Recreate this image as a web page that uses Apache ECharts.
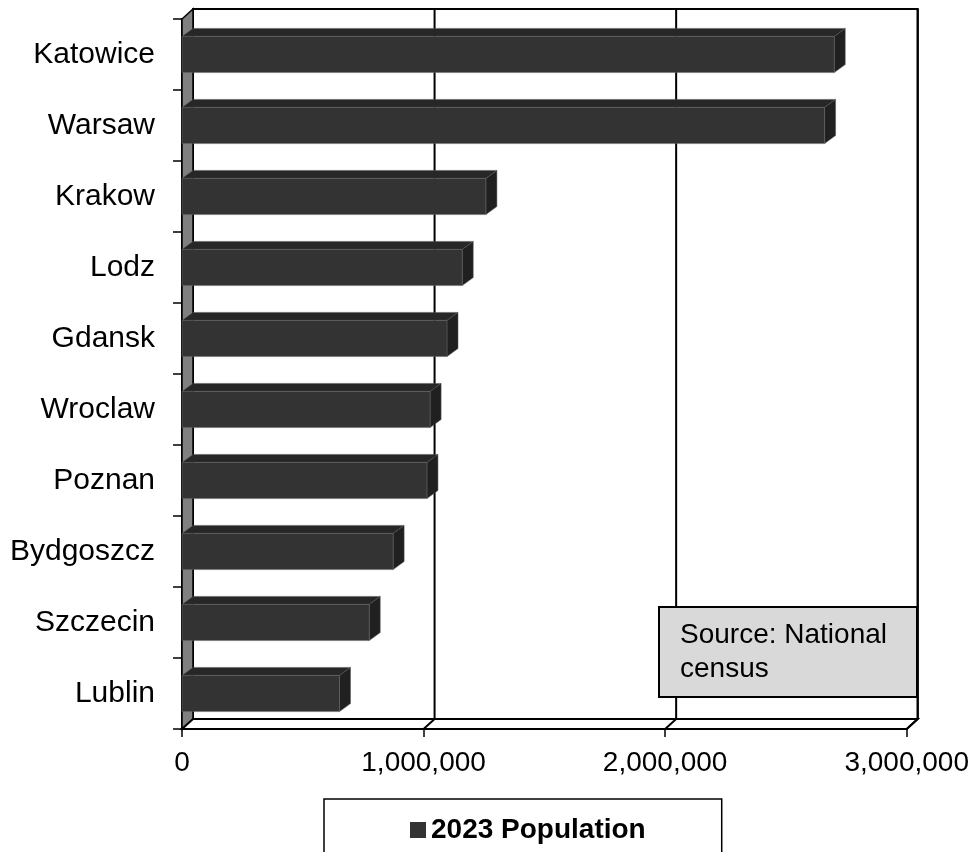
<!DOCTYPE html>
<html>
<head>
<meta charset="utf-8">
<script src="https://cdn.jsdelivr.net/npm/echarts@6/dist/echarts.min.js"></script>
<style>
html,body{margin:0;padding:0;background:#fff;}
#chart{width:972px;height:852px;}
</style>
</head>
<body>
<div id="chart"></div>
<script>
const cities = ['Katowice','Warsaw','Krakow','Lodz','Gdansk','Wroclaw','Poznan','Bydgoszcz','Szczecin','Lublin'];
const population2023 = [2700000,2660000,1258000,1160000,1097000,1027000,1014000,874000,775000,652000];
const xTicks = [0, 1000000, 2000000, 3000000];
const seriesName = '2023 Population';
const sourceNote = 'Source: National\ncensus';

const FONT = '"Liberation Sans", Arial, sans-serif';
const DX = 11, DY = -10;      // wall depth offset
const BDX = 11, BDY = -8;     // bar depth offset

const chart = echarts.init(document.getElementById('chart'), null, {renderer:'canvas'});

function fmt(v){ return v.toLocaleString('en-US'); }

const wallSeries = {
  type: 'custom',
  name: 'walls',
  silent: true,
  z: 1,
  legendHoverLink: false,
  data: [[0, 0]],
  encode: {x: 0, y: 1},
  renderItem: function(params, api){
    const cs = params.coordSys;
    const x0 = cs.x, x1 = cs.x + cs.width, yT = cs.y, yB = cs.y + cs.height;
    const children = [];
    children.push({type:'polygon', shape:{points:[[x0+DX,yT+DY],[x1+DX,yT+DY],[x1+DX,yB+DY],[x0+DX,yB+DY]]},
      style:{fill:'#fff', stroke:'#000', lineWidth:2}});
    children.push({type:'polygon', shape:{points:[[x0,yT],[x0+DX,yT+DY],[x0+DX,yB+DY],[x0,yB]]},
      style:{fill:'#808080', stroke:'#000', lineWidth:1.5}});
    children.push({type:'polygon', shape:{points:[[x0,yB],[x1,yB],[x1+DX,yB+DY],[x0+DX,yB+DY]]},
      style:{fill:'#fff', stroke:'#000', lineWidth:2}});
    xTicks.forEach(function(t){
      if (t === 0) return;
      const px = api.coord([t, 0])[0];
      children.push({type:'line', shape:{x1:px+DX, y1:yT+DY, x2:px+DX, y2:yB+DY}, style:{stroke:'#000', lineWidth:2}});
      children.push({type:'line', shape:{x1:px, y1:yB, x2:px+DX, y2:yB+DY}, style:{stroke:'#000', lineWidth:2}});
    });
    return {type:'group', children: children};
  }
};

const barSeries = {
  type: 'custom',
  name: seriesName,
  z: 3,
  itemStyle: {color: '#333333'},
  data: population2023.map(function(v, i){ return [v, i]; }),
  encode: {x: 0, y: 1},
  renderItem: function(params, api){
    const val = api.value(0), idx = api.value(1);
    const p0 = api.coord([0, idx]);
    const p1 = api.coord([val, idx]);
    const band = api.size([0, 1])[1];
    const h = band * 0.51;
    const yt = p0[1] - h/2, yb = p0[1] + h/2;
    const xl = p0[0], xr = p1[0];
    return {type:'group', children:[
      {type:'polygon', shape:{points:[[xl,yt],[xr,yt],[xr+BDX,yt+BDY],[xl+BDX,yt+BDY]]}, style:{fill:'#272727', stroke:'#555', lineWidth:0.5}},
      {type:'polygon', shape:{points:[[xr,yt],[xr+BDX,yt+BDY],[xr+BDX,yb+BDY],[xr,yb]]}, style:{fill:'#202020', stroke:'#555', lineWidth:0.5}},
      {type:'rect', shape:{x:xl, y:yt, width:xr-xl, height:h}, style:{fill:'#333333', stroke:'#666', lineWidth:0.5}}
    ]};
  }
};

const option = {
  backgroundColor: '#ffffff',
  animation: false,
  grid: {left: 182, right: 65, top: 19, bottom: 123},
  xAxis: {
    type: 'value', min: 0, max: 3000000, interval: 1000000,
    axisLine: {show: true, onZero: false, lineStyle: {color: '#000', width: 2}},
    axisTick: {show: true, length: 8, lineStyle: {color: '#000', width: 1.5}},
    splitLine: {show: false},
    axisLabel: {color: '#000', fontSize: 28, fontFamily: FONT, margin: 20, formatter: fmt}
  },
  yAxis: {
    type: 'category', inverse: true, data: cities,
    axisLine: {show: true, lineStyle: {color: '#000', width: 2}},
    axisTick: {show: true, length: 9, lineStyle: {color: '#000', width: 1.5}},
    splitLine: {show: false},
    axisLabel: {color: '#000', fontSize: 30, fontFamily: FONT, margin: 27}
  },
  legend: {
    data: [seriesName],
    left: 324, top: 799,
    padding: [17, 76, 30, 86],
    borderColor: '#000', borderWidth: 1.5,
    backgroundColor: '#fff',
    icon: 'rect', itemWidth: 16, itemHeight: 16, itemGap: 0,
    textStyle: {color: '#000', fontSize: 28, fontWeight: 'bold', fontFamily: FONT}
  },
  graphic: [
    {type:'rect', z: 100, shape:{x:659, y:607, width:258, height:90}, style:{fill:'#d9d9d9', stroke:'#000', lineWidth:2}},
    {type:'text', z: 101, x: 680, y: 618, style:{text: sourceNote, font: '28px ' + FONT, fill:'#000', lineHeight: 34}}
  ],
  series: [wallSeries, barSeries]
};
chart.setOption(option);
</script>
</body>
</html>
